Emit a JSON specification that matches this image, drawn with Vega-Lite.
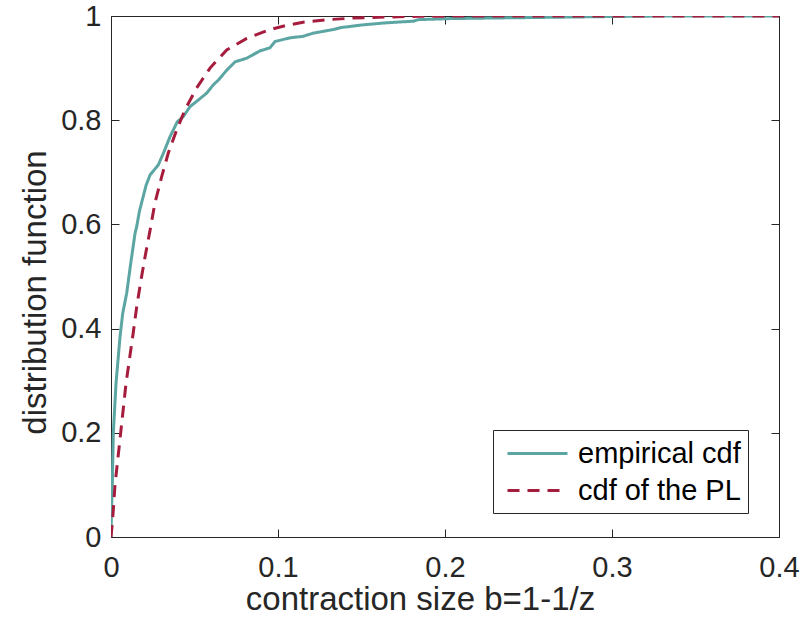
{
  "$schema": "https://vega.github.io/schema/vega-lite/v6.json",
  "width": 668,
  "height": 521,
  "autosize": {"type": "none"},
  "padding": {"left": 111, "top": 16, "right": 28, "bottom": 86},
  "background": "white",
  "config": {
    "view": {"stroke": null},
    "font": "Liberation Sans",
    "axis": {
      "grid": false,
      "domainColor": "#262626",
      "domainWidth": 1,
      "tickColor": "#262626",
      "tickWidth": 1,
      "tickSize": -8,
      "labelColor": "#262626",
      "titleColor": "#262626",
      "labelFont": "Liberation Sans",
      "titleFont": "Liberation Sans",
      "labelFontSize": 29,
      "titleFontSize": 33,
      "titleFontWeight": "normal",
      "labelFlush": false
    }
  },
  "datasets": {
    "emp": [
      {"b": 0, "F": 0}, {"b": 0.0003, "F": 0.05}, {"b": 0.0008, "F": 0.103}, {"b": 0.0014, "F": 0.2},
      {"b": 0.003, "F": 0.295}, {"b": 0.0054, "F": 0.384}, {"b": 0.007, "F": 0.429}, {"b": 0.0094, "F": 0.468},
      {"b": 0.0118, "F": 0.525}, {"b": 0.0144, "F": 0.583}, {"b": 0.0154, "F": 0.596}, {"b": 0.017, "F": 0.625},
      {"b": 0.019, "F": 0.65}, {"b": 0.021, "F": 0.675}, {"b": 0.0234, "F": 0.695}, {"b": 0.0283, "F": 0.714},
      {"b": 0.0313, "F": 0.736}, {"b": 0.0353, "F": 0.768}, {"b": 0.0397, "F": 0.797}, {"b": 0.0433, "F": 0.807},
      {"b": 0.0473, "F": 0.826}, {"b": 0.052, "F": 0.838}, {"b": 0.0573, "F": 0.852}, {"b": 0.0613, "F": 0.868},
      {"b": 0.0643, "F": 0.877}, {"b": 0.0693, "F": 0.896}, {"b": 0.0743, "F": 0.912}, {"b": 0.0813, "F": 0.919},
      {"b": 0.0892, "F": 0.933}, {"b": 0.0952, "F": 0.939}, {"b": 0.0982, "F": 0.951}, {"b": 0.107, "F": 0.958},
      {"b": 0.115, "F": 0.961}, {"b": 0.121, "F": 0.967}, {"b": 0.133, "F": 0.974}, {"b": 0.138, "F": 0.978},
      {"b": 0.151, "F": 0.983}, {"b": 0.165, "F": 0.987}, {"b": 0.181, "F": 0.99}, {"b": 0.184, "F": 0.993},
      {"b": 0.203, "F": 0.995}, {"b": 0.225, "F": 0.996}, {"b": 0.251, "F": 0.997}, {"b": 0.3, "F": 0.999},
      {"b": 0.33, "F": 1}, {"b": 0.4, "F": 1}
    ],
    "pl": [
      {"b": 0, "F": 0}, {"b": 0.001, "F": 0.035}, {"b": 0.0024, "F": 0.1}, {"b": 0.0058, "F": 0.2},
      {"b": 0.009, "F": 0.295}, {"b": 0.0134, "F": 0.394}, {"b": 0.0154, "F": 0.442}, {"b": 0.0178, "F": 0.49},
      {"b": 0.0204, "F": 0.538}, {"b": 0.0234, "F": 0.589}, {"b": 0.0263, "F": 0.641}, {"b": 0.0303, "F": 0.691},
      {"b": 0.0343, "F": 0.737}, {"b": 0.0393, "F": 0.781}, {"b": 0.0443, "F": 0.82}, {"b": 0.0513, "F": 0.862},
      {"b": 0.0593, "F": 0.9}, {"b": 0.0693, "F": 0.935}, {"b": 0.0813, "F": 0.957}, {"b": 0.0952, "F": 0.974},
      {"b": 0.105, "F": 0.982}, {"b": 0.115, "F": 0.988}, {"b": 0.13, "F": 0.993}, {"b": 0.145, "F": 0.996},
      {"b": 0.165, "F": 0.998}, {"b": 0.185, "F": 0.9995}, {"b": 0.22, "F": 1}, {"b": 0.4, "F": 1}
    ]
  },
  "layer": [
    {
      "data": {"name": "emp"},
      "mark": {"type": "line", "strokeWidth": 3, "clip": true},
      "encoding": {
        "x": {"field": "b", "type": "quantitative", "scale": {"domain": [0, 0.4], "nice": false},
          "axis": {"orient": "bottom", "values": [0, 0.1, 0.2, 0.3, 0.4], "format": "~g", "title": "contraction size b=1-1/z", "labelPadding": 24, "titlePadding": 1, "titleX": 309}},
        "y": {"field": "F", "type": "quantitative", "scale": {"domain": [0, 1], "nice": false},
          "axis": {"orient": "left", "values": [0, 0.2, 0.4, 0.6, 0.8, 1], "format": "~g", "title": "distribution function", "labelPadding": 18, "titlePadding": 8, "titleY": 276}},
        "color": {"datum": "empirical cdf", "type": "nominal",
          "scale": {"domain": ["empirical cdf", "cdf of the PL"], "range": ["#5ba5a3", "#a61c3c"]},
          "legend": {"title": null, "orient": "none", "legendX": 382, "legendY": 414,
            "strokeColor": "#262626", "fillColor": "white", "padding": 7,
            "symbolType": "M-1,0H3", "symbolSize": 900, "symbolStrokeWidth": 3, "symbolOffset": 6,
            "labelLimit": 0,
            "labelFontSize": 29, "labelColor": "#000000", "labelFont": "Liberation Sans", "labelOffset": 39, "rowPadding": 5, "cornerRadius": 0}},
        "strokeDash": {"datum": "empirical cdf", "type": "nominal",
          "scale": {"domain": ["empirical cdf", "cdf of the PL"], "range": [[1, 0], [12, 8]]},
          "legend": null}
      }
    },
    {
      "data": {"name": "pl"},
      "mark": {"type": "line", "strokeWidth": 3, "clip": true},
      "encoding": {
        "x": {"field": "b", "type": "quantitative",
          "axis": {"orient": "top", "values": [0, 0.1, 0.2, 0.3, 0.4], "labels": false, "title": null}},
        "y": {"field": "F", "type": "quantitative",
          "axis": {"orient": "right", "values": [0, 0.2, 0.4, 0.6, 0.8, 1], "labels": false, "title": null}},
        "color": {"datum": "cdf of the PL", "type": "nominal"},
        "strokeDash": {"datum": "cdf of the PL", "type": "nominal"}
      }
    }
  ],
  "resolve": {"axis": {"x": "independent", "y": "independent"}}
}
